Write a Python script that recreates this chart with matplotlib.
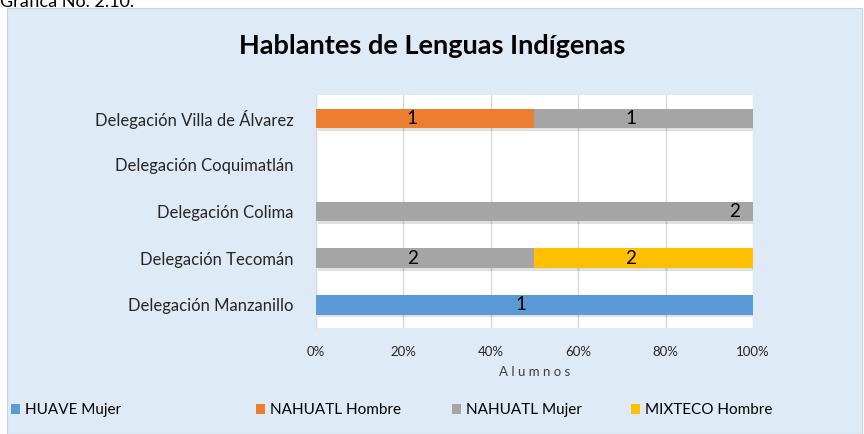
import numpy as np
import matplotlib.pyplot as plt
from matplotlib.patches import Rectangle
import matplotlib.patheffects as pe

plt.rcParams['font.family'] = ['Lato', 'DejaVu Sans']

delegaciones = ['Delegación Manzanillo', 'Delegación Tecomán', 'Delegación Colima',
                'Delegación Coquimatlán', 'Delegación Villa de Álvarez']
series = ['HUAVE Mujer', 'NAHUATL Hombre', 'NAHUATL Mujer', 'MIXTECO Hombre']
huave_mujer = [1, 0, 0, 0, 0]
nahuatl_hombre = [0, 0, 0, 0, 1]
nahuatl_mujer = [0, 2, 2, 0, 1]
mixteco_hombre = [0, 2, 0, 0, 0]

colores = ['#5B9BD5', '#ED7D31', '#A5A5A5', '#FFC000']

valores = np.array([huave_mujer, nahuatl_hombre, nahuatl_mujer, mixteco_hombre], dtype=float)
totales = valores.sum(axis=0)
pct = np.divide(valores, totales, out=np.zeros_like(valores), where=totales > 0)

fig = plt.figure(figsize=(8.64, 4.34), dpi=100)
fig.patch.set_facecolor('white')
fig.patches.append(Rectangle((7 / 864, 0), 855 / 864, 426 / 434, transform=fig.transFigure,
                             facecolor='#DEEAF6', edgecolor='#C9D3DE', lw=0.8, zorder=-5))
fig.text(0.0, 0.984, 'Gráfica No. 2.10.', fontsize=13, ha='left', va='baseline')

ax = fig.add_axes([0.3657, 0.244, 0.5058, 0.537])
ax.set_facecolor('white')

y = np.arange(len(delegaciones))
izq = np.zeros(len(delegaciones))
sombra = [pe.SimplePatchShadow(offset=(1.5, -2), shadow_rgbFace='black', alpha=0.12), pe.Normal()]
for i, nombre in enumerate(series):
    barras = ax.barh(y, pct[i], left=izq, height=0.42, color=colores[i], label=nombre, zorder=3)
    for b in barras:
        b.set_path_effects(sombra)
    for j in range(len(delegaciones)):
        if valores[i, j] > 0:
            if pct[i, j] == 1 and j == 2:
                ax.text(izq[j] + pct[i, j] - 0.03, y[j], f'{int(valores[i, j])}', ha='right',
                        va='center', fontsize=13.5, zorder=4)
            else:
                ax.text(izq[j] + pct[i, j] / 2 - 0.03, y[j], f'{int(valores[i, j])}', ha='center',
                        va='center', fontsize=13.5, zorder=4)
    izq += pct[i]

ax.set_xlim(0, 1)
ax.set_ylim(-0.5, 4.5)
ax.set_yticks(y)
ax.set_yticklabels(delegaciones, fontsize=12, color='#262626')
ax.set_xticks(np.arange(0, 1.01, 0.2))
ax.set_xticklabels([f'{int(round(v * 100))}%' for v in np.arange(0, 1.01, 0.2)], fontsize=9.5,
                   color='#262626')
ax.tick_params(length=0)
ax.tick_params(axis='y', pad=16)
ax.tick_params(axis='x', pad=13)
ax.grid(axis='x', color='#D9D9D9', lw=1, zorder=0)
for s in ['top', 'right', 'bottom']:
    ax.spines[s].set_visible(False)
ax.spines['left'].set_color('#D9D9D9')
ax.set_xlabel('A l u m n o s', fontsize=9.5, color='#404040', labelpad=6)

fig.text(0.5, 0.895, 'Hablantes de Lenguas Indígenas', fontsize=19.5, fontweight='bold',
         ha='center', va='center')

# legend entries placed one by one, like the spreadsheet does
handles, labels = ax.get_legend_handles_labels()
leg_x = [8, 253, 449, 628]
for h, l, x0 in zip(handles, labels, leg_x):
    leg = fig.legend([h], [l], loc='center left', bbox_to_anchor=(x0 / 864, 0.055), frameon=False,
                     fontsize=11, handlelength=0.6, handleheight=0.6, handletextpad=0.3,
                     borderaxespad=0, borderpad=0.2)
    leg.legend_handles[0].set_path_effects([])

fig.savefig('out.png', dpi=100, facecolor=fig.get_facecolor())
